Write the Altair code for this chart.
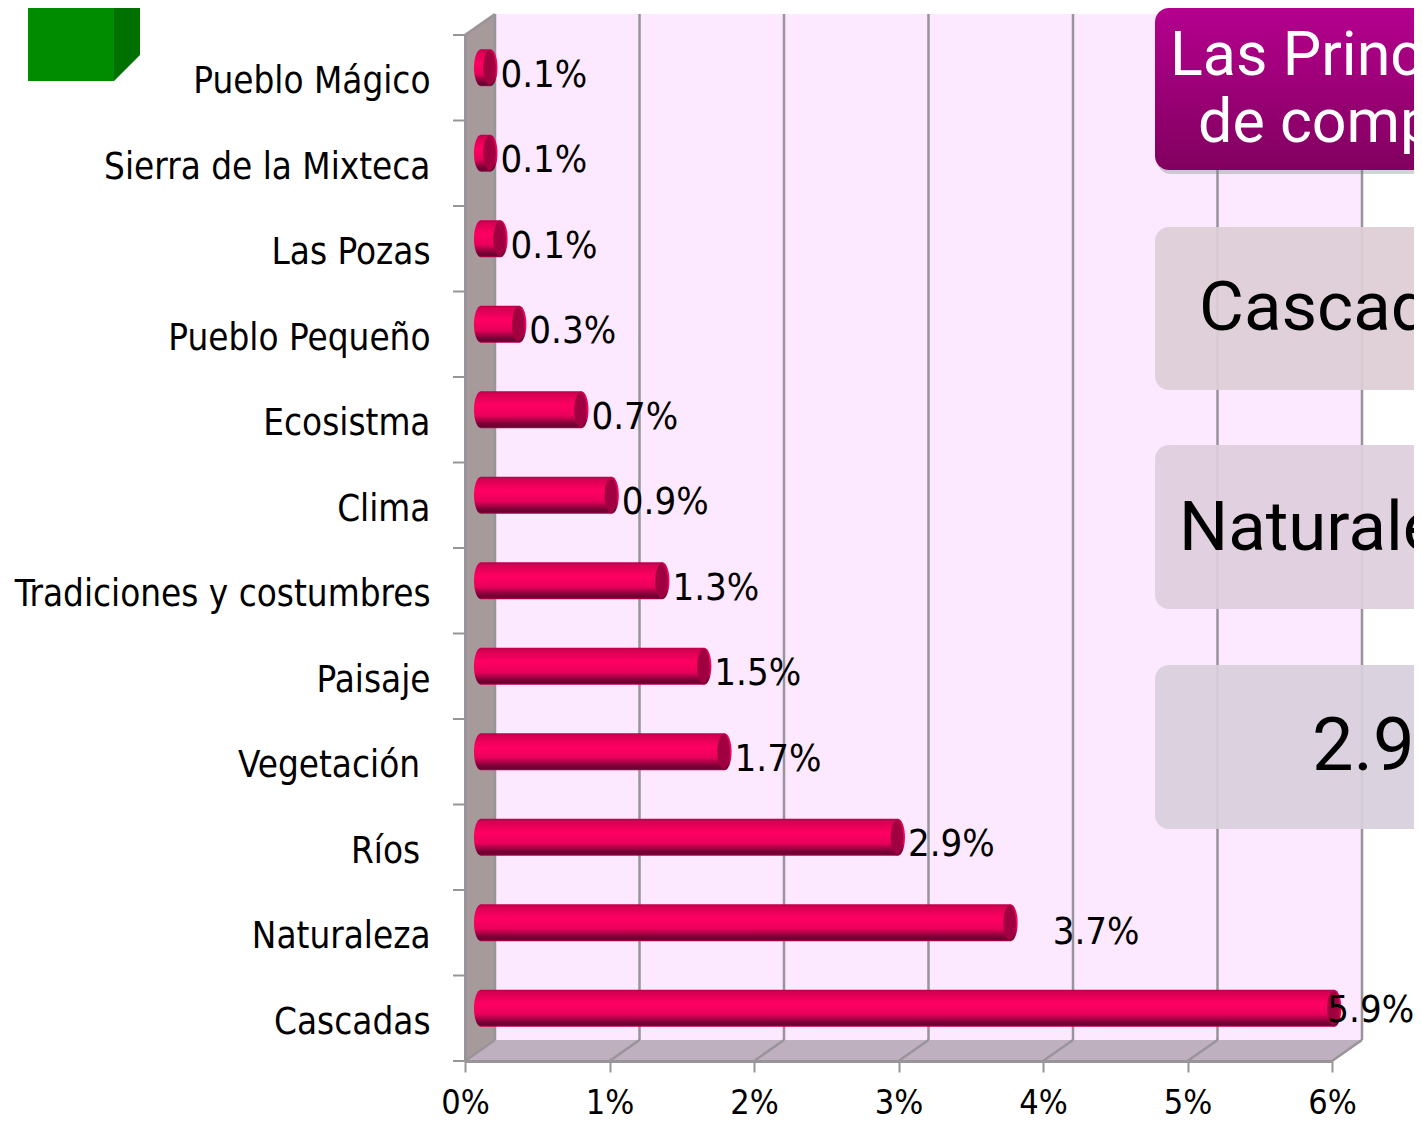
import json
import altair as alt
import pandas as pd

categories = ["Pueblo Mágico", "Sierra de la Mixteca", "Las Pozas", "Pueblo Pequeño", "Ecosistma", "Clima",
              "Tradiciones y costumbres", "Paisaje", "Vegetación\u00a0\u200b", "Ríos\u00a0\u200b", "Naturaleza", "Cascadas"]
rows = [11.5, 10.5, 9.5, 8.5, 7.5, 6.5, 5.5, 4.5, 3.5, 2.5, 1.5, 0.5]
values = [0.1, 0.1, 0.17, 0.3, 0.73, 0.94, 1.29, 1.58, 1.72, 2.92, 3.70, 5.94]
labels = ["0.1%", "0.1%", "0.1%", "0.3%", "0.7%", "0.9%", "1.3%", "1.5%", "1.7%", "2.9%", "3.7%", "5.9%"]
x_ticks = [0, 1, 2, 3, 4, 5, 6]
panel_lines = ["Cascadas", "Naturaleza", "2.9%"]
title_lines = ["Las Principales", "de competencia"]

FONT = "DejaVu Sans Condensed"
BIG = "Roboto"
DX, DY = 30 / 144.5, 21 / 85.5
W, H = 867, 1026
XS = alt.Scale(domain=[0, 6], nice=False, zero=False, padding=0)
YS = alt.Scale(domain=[0, 12], nice=False, zero=False, padding=0)
LINE = "#999499"

df = pd.DataFrame({"cat": categories, "row": rows, "v": values, "label": labels, "zero": 0})

XA = alt.Axis(values=x_ticks, labelExpr="datum.value + '%'", labelFont=FONT, labelFontSize=34, labelColor="black",
              labelPadding=14, labelFlush=False, labelBound=False, labelOverlap=False,
              tickSize=11, tickWidth=2, tickColor=LINE, domainColor=LINE, domainWidth=3,
              grid=False, title=None, zindex=1)
YA = alt.Axis(values=rows, labelExpr=json.dumps(categories, ensure_ascii=False) + "[floor(11.5 - datum.value)]",
              labelFont=FONT, labelFontSize=36.5, labelColor="black", labelPadding=35, labelOffset=4, labelLimit=600,
              labelFlush=False, labelBound=False, labelOverlap=False,
              ticks=False, domainColor=LINE, domainWidth=3, grid=False, title=None, zindex=1)


def X(f):
    return alt.X(f, type="quantitative", scale=XS, axis=XA)


def Y(f):
    return alt.Y(f, type="quantitative", scale=YS, axis=YA)


def area(xs, y1, y2, fill):
    d = pd.DataFrame({"x": xs, "y1": y1, "y2": y2})
    return alt.Chart(d).mark_area(fill=fill, opacity=1).encode(x=X("x"), y=Y("y1"), y2=alt.Y2("y2"))


def seg(rows_, width=2.5, color=LINE):
    d = pd.DataFrame(rows_, columns=["x", "y", "x2", "y2"])
    return alt.Chart(d).mark_rule(color=color, strokeWidth=width).encode(
        x=X("x"), y=Y("y"), x2=alt.X2("x2"), y2=alt.Y2("y2"))


back = area([DX, 6 + DX], [DY, DY], [12 + DY, 12 + DY], "#fce8ff")
side = area([0, DX], [0, DY], [12, 12 + DY], "#a69a9a")
floor = area([0, DX, 6, 6 + DX], [0, DY, DY, DY], [0, 0, 0, DY], "#bfb0bf")

grid = seg([[t + DX, DY, t + DX, 12 + DY] for t in x_ticks[1:]])
diag = seg([[t, 0, t + DX, DY] for t in x_ticks] + [[0, 12, DX, 12 + DY], [DX, DY, DX, 12 + DY]])
y_ticks = seg([[-12 / 144.5, k, 0, k] for k in range(13)], 2)

body_fill = alt.Gradient(
    gradient="linear", x1=0, y1=0, x2=0, y2=1,
    stops=[
        alt.GradientStop(offset=0, color="#b8004a"),
        alt.GradientStop(offset=0.08, color="#d80052"),
        alt.GradientStop(offset=0.38, color="#ff0062"),
        alt.GradientStop(offset=0.66, color="#e8005a"),
        alt.GradientStop(offset=0.88, color="#7a0036"),
        alt.GradientStop(offset=0.95, color="#680030"),
        alt.GradientStop(offset=1, color="#c00050"),
    ])

ELL = "M0,-1 A0.38,1 0 1 1 0,1 A0.38,1 0 1 1 0,-1 Z"
base = alt.Chart(df)
left_cap = base.mark_point(shape=ELL, size=37 ** 2, filled=True, fill=body_fill, opacity=1, strokeWidth=0,
                           xOffset=16, yOffset=-10).encode(x=X("zero"), y=Y("row"))
bars = base.mark_bar(height=37, fill=body_fill, xOffset=16, x2Offset=11, yOffset=-10).encode(
    x=X("zero"), x2=alt.X2("v"), y=Y("row"))
end_cap = base.mark_point(shape=ELL, size=37 ** 2, filled=True, fill=body_fill, opacity=1, strokeWidth=0,
                          xOffset=11, yOffset=-10).encode(x=X("v"), y=Y("row"))
end_face = base.mark_point(shape="M0,-0.92 A0.34,0.92 0 1 1 0,0.92 A0.34,0.92 0 1 1 0,-0.92 Z", size=37 ** 2,
                           filled=True, fill="#a0003f", opacity=1, strokeWidth=0,
                           xOffset=10, yOffset=-10).encode(x=X("v"), y=Y("row"))


def val_text(sel, dx, dy):
    return alt.Chart(df[sel]).mark_text(font=FONT, fontSize=38, align="left", baseline="middle",
                                        color="black", dx=dx, dy=dy).encode(
        x=X("v"), y=Y("row"), text="label:N")


is_nat = df["cat"] == "Naturaleza"
is_cas = df["cat"] == "Cascadas"
texts = [val_text(~is_nat & ~is_cas, 21, -2), val_text(is_nat, 53, 0), val_text(is_cas, 4, -7)]


def box(x, x2, y, y2, fill, opacity=1.0, radius=14):
    return alt.Chart(pd.DataFrame({"a": [1]})).mark_rect(fill=fill, opacity=opacity, cornerRadius=radius).encode(
        x=alt.value(x - 465), x2=alt.value(x2 - 465), y=alt.value(y - 35), y2=alt.value(y2 - 35))


def txt(s, x, y, size, color):
    return alt.Chart(pd.DataFrame({"t": [s]})).mark_text(
        font=BIG, fontSize=size, align="left", baseline="middle", color=color).encode(
        x=alt.value(x - 465), y=alt.value(y - 35), text="t:N")


purple = alt.Gradient(gradient="linear", x1=0, y1=0, x2=0, y2=1,
                      stops=[alt.GradientStop(offset=0, color="#b4008e"),
                             alt.GradientStop(offset=1, color="#82005f")])
panels = [
    box(1157, 1500, 12, 174, "#808080", 0.35),
    box(1155, 1500, 8, 170, purple),
    box(1155, 1500, 227, 390, "#decdd6", 0.93),
    box(1155, 1500, 445, 609, "#dfcfde", 0.93),
    box(1155, 1500, 665, 829, "#d8cfdd", 0.93),
    txt(title_lines[0], 1170, 57, 61, "white"),
    txt(title_lines[1], 1198, 124, 61, "white"),
    txt(panel_lines[0], 1199, 309, 69, "black"),
    txt(panel_lines[1], 1179, 529, 69, "black"),
    txt(panel_lines[2], 1312, 748, 74, "black"),
]

cube_front = box(28, 114, 0, 81, "#008c00", 1, 0)
cube_side = alt.Chart(pd.DataFrame({"a": [1]})).mark_point(
    shape="M-0.317,-1 L0.317,-1 L0.317,0.366 L-0.317,1 Z", size=82 ** 2, filled=True, fill="#007000",
    opacity=1, strokeWidth=0).encode(x=alt.value(127 - 465), y=alt.value(40 - 35))

chart = alt.layer(
    back, side, floor, grid, diag, y_ticks,
    left_cap, bars, end_cap, end_face, *texts,
    *panels, cube_front, cube_side,
).properties(
    width=W, height=H,
    autosize=alt.AutoSizeParams(type="none"),
    padding={"left": 457, "top": 27, "right": 82, "bottom": 63},
).configure_view(stroke=None)

chart.save("out.html", embed_options={"renderer": "svg", "actions": False})
